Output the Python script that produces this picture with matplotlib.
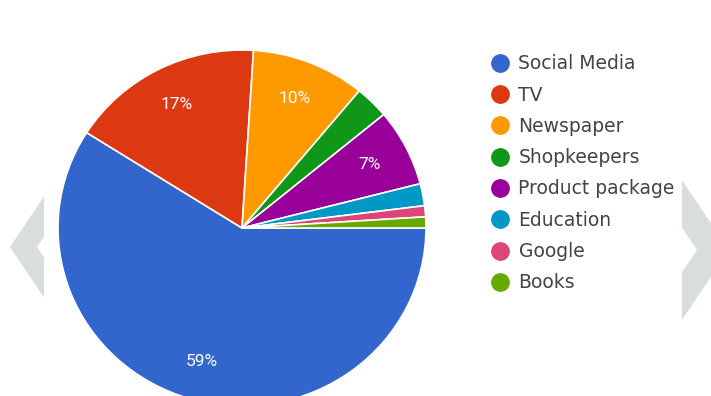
import matplotlib.pyplot as plt
from matplotlib.lines import Line2D
from matplotlib.patches import Polygon, Rectangle

plt.rcParams['font.family'] = ['Roboto', 'DejaVu Sans']

sources = ["Social Media", "TV", "Newspaper", "Shopkeepers",
           "Product package", "Education", "Google", "Books"]
shares = [59, 17, 10, 3, 7, 2, 1, 1]
colors = ["#3366cc", "#dc3912", "#ff9900", "#109618",
          "#990099", "#0099c6", "#dd4477", "#66aa00"]

W, H = 711, 396
fig = plt.figure(figsize=(W / 100, H / 100), dpi=100)

# background in pixel coords: grey chevrons behind a white card
bg = fig.add_axes([0, 0, 1, 1])
bg.set_xlim(0, W)
bg.set_ylim(H, 0)
bg.axis("off")
chev = "#d9dddd"
bg.add_patch(Polygon([(10, 247), (80, 143), (107, 143), (37, 247),
                      (107, 351), (80, 351)], closed=True, color=chev, lw=0))
bg.add_patch(Polygon([(729, 250), (659, 146), (627, 146), (697, 250),
                      (627, 354), (659, 354)], closed=True, color=chev, lw=0))
bg.add_patch(Rectangle((44, 0), 638, H, color="white", lw=0))

# pie: centre at (242, 228) px, radii 184 x 178 px
ax = fig.add_axes([0, 0, 1, 1])
cx, cy, rx, ry = 242, 228, 184, 178
wedges, texts, autotexts = ax.pie(
    shares, colors=colors, startangle=0, counterclock=False,
    autopct=lambda p: f"{p:.0f}%" if p >= 5 else "",
    pctdistance=0.78,
    wedgeprops=dict(edgecolor="white", linewidth=1.2),
    textprops=dict(color="white", fontsize=12.5))
ax.set_aspect("auto")
ax.set_xlim(-cx / rx, (W - cx) / rx)
ax.set_ylim(-(H - cy) / ry, cy / ry)
ax.axis("off")

handles = [Line2D([], [], marker="o", linestyle="", markersize=12.5,
                  markerfacecolor=c, markeredgecolor=c) for c in colors]
leg = ax.legend(handles, sources, loc="upper left",
                bbox_to_anchor=(481 / W, 1 - 45 / H),
                bbox_transform=fig.transFigure, frameon=False,
                prop=dict(family="DejaVu Sans", size=13.5),
                labelspacing=0.655, handlelength=1.0,
                handletextpad=0.5, borderpad=0)
for t in leg.get_texts():
    t.set_color("#444444")

fig.savefig("out.png", dpi=100)
